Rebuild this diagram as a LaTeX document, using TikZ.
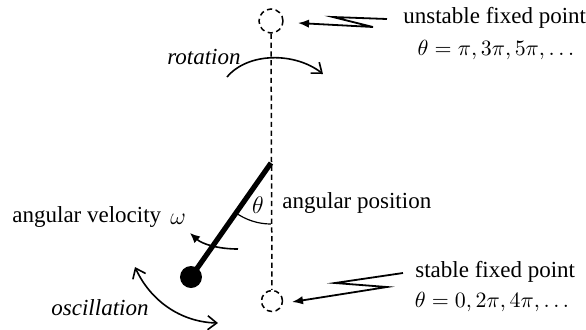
\documentclass[tikz,border=0pt]{standalone}
\usepackage{amsmath, amssymb}
\usepackage{fontspec}
\setmainfont{Liberation Serif}
\usetikzlibrary{calc, arrows.meta}

\tikzset{
    fixpt/.style={circle, draw, dash pattern=on 2.6pt off 1.8pt, line width=0.75pt, inner sep=0pt},
    lbl/.style={inner sep=0pt, font=\fontsize{11.5}{13}\selectfont},
    eqlbl/.style={inner sep=0pt, font=\fontsize{10.8}{13}\selectfont},
    pointer/.style={line width=0.9pt, -{Latex[length=5.5pt, width=4.2pt]}},
    motion/.style={line width=0.8pt, -{Straight Barb[length=4.5pt, width=7pt]}}
}

\begin{document}
\begin{tikzpicture}[x=0.5pt, y=-0.5pt]
                \useasboundingbox (0,0) rectangle (586,329);
                % pendulum
                \coordinate (P) at (271,163);
                \node[fixpt, minimum size=12pt] (top) at (271,21) {};
                \node[fixpt, minimum size=10.5pt] (bot) at (272,301) {};
                \node[circle, fill, minimum size=11pt, inner sep=0pt] (bob) at (191,277) {};
                \draw[dash pattern=on 2.6pt off 1.8pt, line width=0.75pt] (top) -- (bot);
                \draw[line width=2.6pt] (P) -- (bob.center);
                \draw[line width=0.6pt] ($(P)+(0,61)$) arc[start angle=-90, end angle=-126, radius=30.5pt];
                \node[lbl] (th) at (258,205) {$\theta$};
                % labels
                \node[lbl, anchor=west] (angpos) at (282,203) {angular position};
                \node[lbl, anchor=west] (angvel) at (12,217) {angular velocity};
                \node[lbl, anchor=west] (om) at (170,219) {$\omega$};
                \node[lbl, font=\fontsize{11.5}{13}\itshape] (rot) at (204,57) {rotation};
                \node[lbl, font=\fontsize{11.5}{13}\itshape] (osc) at (100,308) {oscillation};
                \node[lbl, anchor=west] (unst) at (403,18) {unstable fixed point};
                \node[eqlbl] (unsteq) at (496,50) {$\theta = \pi, 3\pi, 5\pi, \ldots$};
                \node[lbl, anchor=west] (stab) at (415,272) {stable fixed point};
                \node[eqlbl] (stabeq) at (492,302) {$\theta = 0, 2\pi, 4\pi, \ldots$};
                % zigzag pointers
                \coordinate (u1) at (387,19); \coordinate (u2) at (333,17);
                \coordinate (u3) at (373,27); \coordinate (u4) at (298,23);
                \coordinate (s1) at (403,273); \coordinate (s2) at (335,283);
                \coordinate (s3) at (387,287); \coordinate (s4) at (292,302);
                \draw[pointer] (u1) -- (u2) -- (u3) -- (u4);
                \draw[pointer] (s1) -- (s2) -- (s3) -- (s4);
                % motion arrows
                \coordinate (r1) at (227,77); \coordinate (r2) at (323,74);
                \draw[motion] (r1) .. controls (248,52) and (295,52) .. (r2);
                \coordinate (o1) at (135,267); \coordinate (o2) at (218,323);
                \draw[motion, {Straight Barb[length=4.5pt, width=7pt]}-{Straight Barb[length=4.5pt, width=7pt]}] (o1) .. controls (150,300) and (180,322) .. (o2);
                \coordinate (w1) at (238,249); \coordinate (w2) at (190,233);
                \draw[line width=0.8pt, -{Latex[length=5pt, width=4.5pt]}] (w1) .. controls (218,249) and (202,244) .. (w2);
            \end{tikzpicture}
\end{document}
